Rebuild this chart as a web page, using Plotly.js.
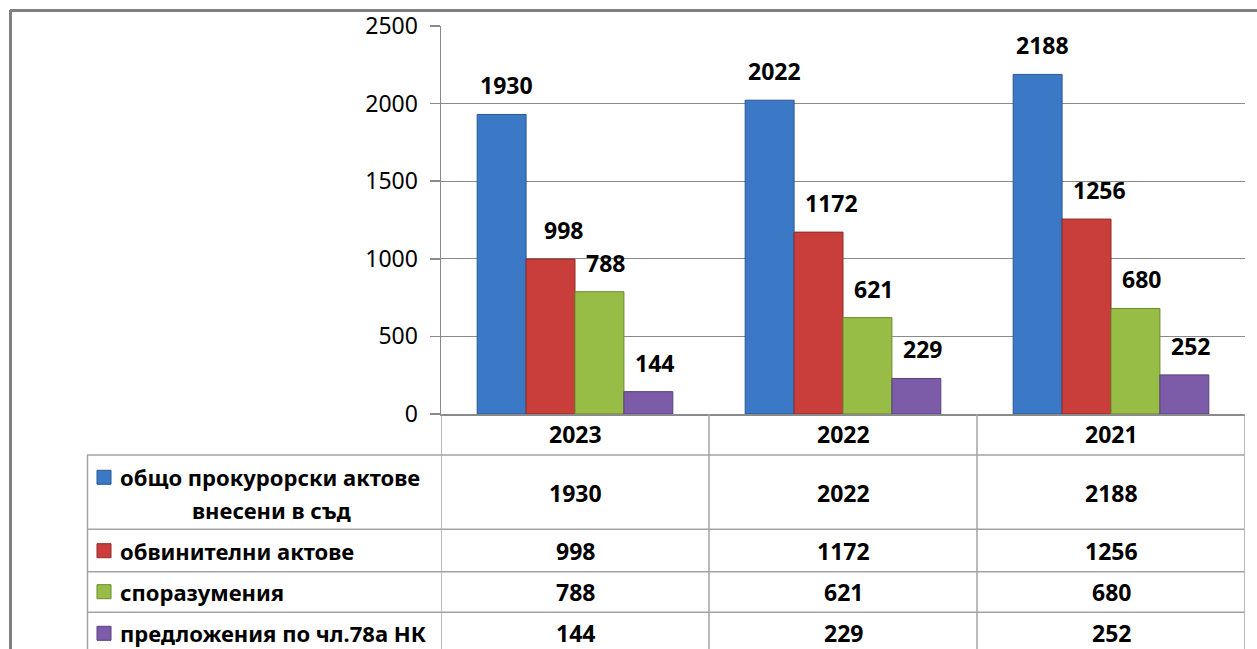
<!DOCTYPE html>
<html><head><meta charset="utf-8">
<script src="https://cdn.plot.ly/plotly-3.0.1.min.js"></script>
<style>html,body{margin:0;padding:0;background:#fff;overflow:hidden}#chart{width:1257px;height:649px}</style>
</head><body><div id="chart"></div>
<script>
// ---- data ----
const years = ['2023', '2022', '2021'];
const seriesNames = ['общо прокурорски актове<br>внесени в съд', 'обвинителни актове', 'споразумения', 'предложения по чл.78а НК'];
const totalActs = [1930, 2022, 2188];
const indictments = [998, 1172, 1256];
const agreements = [788, 621, 680];
const proposals78a = [144, 229, 252];
const yTicks = [0, 500, 1000, 1500, 2000, 2500];

// ---- styling / layout helpers ----
const seriesValues = [totalActs, indictments, agreements, proposals78a];
const xIdx = years.map((_, j) => j);
const colors = ['#3b78c6', '#c93e3a', '#98bd46', '#7c5ca8'];
const edges = ['#2a5690', '#8e2a27', '#6a8a2e', '#56407e'];
const FONT = 'Noto Sans, Open Sans, DejaVu Sans, sans-serif';
const W = 1257, H = 649, L = 441, R = 1245, T = 26, B = 414;
const px = x => (x - L) / (R - L);
const py = y => (B - y) / (B - T);

const traces = seriesValues.map((vals, i) => ({
  type: 'bar', x: xIdx, y: vals, name: seriesNames[i].replace('<br>', ' '),
  marker: {color: colors[i], line: {color: edges[i], width: 1}},
  hoverinfo: 'skip', showlegend: false
}));

const annotations = [];
const shapes = [];
const labelXShift = [-69, -12, 30, 79];
seriesValues.forEach((vals, i) => {
  vals.forEach((v, j) => {
    annotations.push({xref: 'x', yref: 'y', x: xIdx[j], y: v, xshift: labelXShift[i], yshift: 29,
      text: String(v), showarrow: false, xanchor: 'center', yanchor: 'middle',
      font: {family: FONT, size: 23, color: '#000', weight: 'bold'}});
  });
});

// table
const gridCol = '#a3a3a3';
const tableBottom = 670;
const hLines = [455, 529.3, 571.7, 612.3];
hLines.forEach(y => shapes.push({type: 'line', xref: 'paper', yref: 'paper', x0: px(87), x1: px(1244.5), y0: py(y), y1: py(y), line: {color: gridCol, width: 1.5}}));
shapes.push({type: 'line', xref: 'paper', yref: 'paper', x0: px(87.5), x1: px(87.5), y0: py(455), y1: py(tableBottom), line: {color: gridCol, width: 1.5}});
[-0.5, 0.5, 1.5, 2.5].forEach(c => shapes.push({type: 'line', xref: 'x', yref: 'paper', x0: c, x1: c, y0: py(B), y1: py(tableBottom), line: {color: gridCol, width: 1.5}}));

// header years
years.forEach((yr, j) => annotations.push({xref: 'x', yref: 'paper', x: xIdx[j], y: py(434), text: yr, showarrow: false,
  xanchor: 'center', yanchor: 'middle', font: {family: FONT, size: 23, color: '#000', weight: 'bold'}}));

const rowCenters = [492.7, 550.7, 591.7, 633.3];
const rowLineCenters = [[477.3, 510], [550.7], [591.7], [633.3]];
seriesValues.forEach((vals, i) => {
  vals.forEach((v, j) => annotations.push({xref: 'x', yref: 'paper', x: xIdx[j], y: py(rowCenters[i]), text: String(v), showarrow: false,
    xanchor: 'center', yanchor: 'middle', font: {family: FONT, size: 23, color: '#000', weight: 'bold'}}));
  const lines = seriesNames[i].split('<br>');
  annotations.push({xref: 'paper', yref: 'paper', x: px(118), y: py(rowLineCenters[i][0]), text: lines[0], showarrow: false,
    xanchor: 'left', yanchor: 'middle', font: {family: FONT, size: 22, color: '#000', weight: 'bold'}});
  if (lines.length > 1) {
    annotations.push({xref: 'paper', yref: 'paper', x: px(271), y: py(rowLineCenters[i][1]), text: lines[1], showarrow: false,
      xanchor: 'center', yanchor: 'middle', font: {family: FONT, size: 22, color: '#000', weight: 'bold'}});
  }
  const cy = rowLineCenters[i][0];
  shapes.push({type: 'rect', xref: 'paper', yref: 'paper', x0: px(97), x1: px(111), y0: py(cy - 7), y1: py(cy + 7),
    fillcolor: colors[i], line: {color: edges[i], width: 1}});
});

// outer chart border
shapes.push({type: 'line', xref: 'paper', yref: 'paper', x0: px(10), x1: px(1300), y0: py(10.5), y1: py(10.5), line: {color: '#808080', width: 3}});
shapes.push({type: 'line', xref: 'paper', yref: 'paper', x0: px(10.5), x1: px(10.5), y0: py(10), y1: py(700), line: {color: '#808080', width: 3}});

const layout = {
  width: W, height: H, autosize: false,
  margin: {l: L, r: W - R, t: T, b: H - B, pad: 0},
  paper_bgcolor: '#fff', plot_bgcolor: '#fff',
  barmode: 'group', bargap: 0.27, bargroupgap: 0,
  font: {family: FONT, color: '#000'},
  xaxis: {type: 'linear', range: [-0.5, 2.5], showticklabels: false, ticks: '', showgrid: false, showline: true,
    linecolor: '#8a8a8a', linewidth: 1.5, zeroline: false, fixedrange: true},
  yaxis: {range: [0, 2500], tickvals: yTicks, ticks: 'outside', ticklen: 10, tickcolor: '#8a8a8a', tickwidth: 1.5,
    showline: true, linecolor: '#8a8a8a', linewidth: 1.5, showgrid: true, gridcolor: '#8a8a8a', gridwidth: 1,
    zeroline: false, ticklabelstandoff: 7, tickfont: {family: FONT, size: 23, color: '#000'}, fixedrange: true},
  shapes: shapes, annotations: annotations
};
Plotly.newPlot('chart', traces, layout, {displayModeBar: false, staticPlot: true});
</script></body></html>
